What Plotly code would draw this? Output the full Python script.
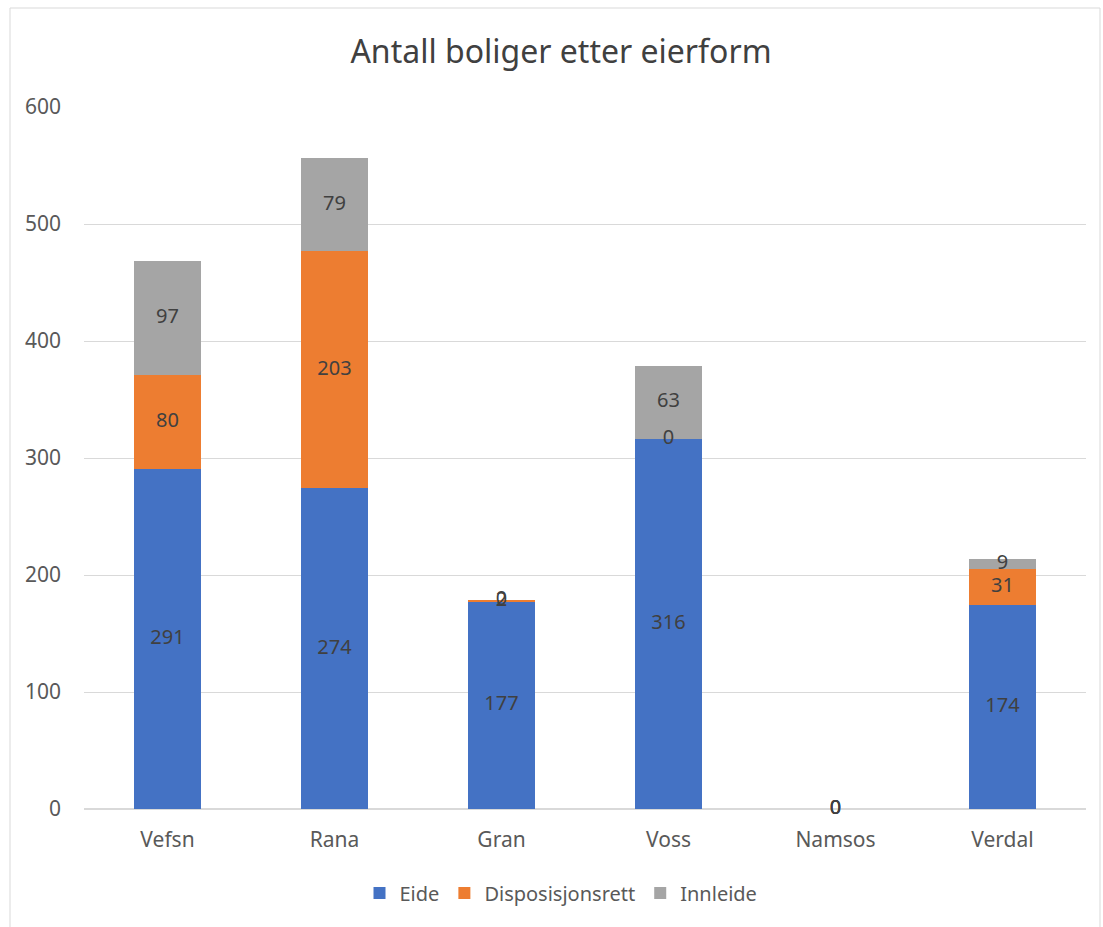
import numpy as np
import plotly.graph_objects as go

kommuner = ["Vefsn", "Rana", "Gran", "Voss", "Namsos", "Verdal"]
eide = [291, 274, 177, 316, 0, 174]
disposisjonsrett = [80, 203, 2, 0, 0, 31]
innleide = [97, 79, 0, 63, 0, 9]

series = [
    ("Eide", eide, "#4472C4"),
    ("Disposisjonsrett", disposisjonsrett, "#ED7D31"),
    ("Innleide", innleide, "#A5A5A5"),
]

_FONT = "Noto Sans"
_TEXT = "#404040"

fig = go.Figure()
for name, vals, color in series:
    fig.add_trace(go.Bar(
        x=kommuner, y=vals, name=name,
        marker=dict(color=color, line=dict(width=0)),
        hoverinfo="x+y+name",
    ))

# data labels centred in each segment (also shows zero values like Excel)
base = np.zeros(len(kommuner))
for name, vals, color in series:
    v = np.array(vals, dtype=float)
    fig.add_trace(go.Scatter(
        x=kommuner, y=base + v / 2, text=[str(int(t)) for t in v],
        mode="text", textposition="middle center",
        textfont=dict(family=_FONT, size=20, color=_TEXT),
        showlegend=False, hoverinfo="skip", cliponaxis=False,
    ))
    base = base + v

fig.update_layout(
    barmode="stack",
    bargap=0.6,
    width=1103, height=927,
    margin=dict(l=84, r=17, t=107, b=118),
    paper_bgcolor="white", plot_bgcolor="white",
    font=dict(family=_FONT, color=_TEXT, size=20),
    title=dict(
        text="Antall boliger etter eierform",
        x=561 / 1103, xanchor="center", xref="container",
        y=1 - 52 / 927, yanchor="middle", yref="container",
        font=dict(family=_FONT, size=32, color=_TEXT),
    ),
    legend=dict(
        orientation="h", x=561 / 1103, xanchor="center", xref="container",
        y=1 - 893 / 927, yanchor="middle", yref="container",
        font=dict(family=_FONT, size=20, color="#595959"),
        traceorder="normal", itemwidth=30,
    ),
    showlegend=True,
    shapes=[dict(
        type="rect", xref="paper", yref="paper",
        x0=(10 - 84) / 1002, x1=(1100 - 84) / 1002,
        y0=(809 - 935) / 702, y1=(809 - 8) / 702,
        line=dict(color="#D9D9D9", width=1), fillcolor="rgba(0,0,0,0)",
        layer="below",
    )],
)
fig.update_yaxes(
    range=[0, 600], dtick=100, showgrid=True, gridcolor="#D9D9D9",
    gridwidth=1, zeroline=True, zerolinecolor="#D9D9D9", showline=False,
    ticks="", ticklabelstandoff=22, tickfont=dict(size=21, color="#595959"),
)
fig.update_xaxes(
    showline=False, ticks="", showgrid=False,
    tickfont=dict(size=21, color="#595959"), ticklabelstandoff=16,
)

fig.write_html(
    "out.html",
    config={"displayModeBar": False},
    post_script="document.body.style.margin='0px';",
)
